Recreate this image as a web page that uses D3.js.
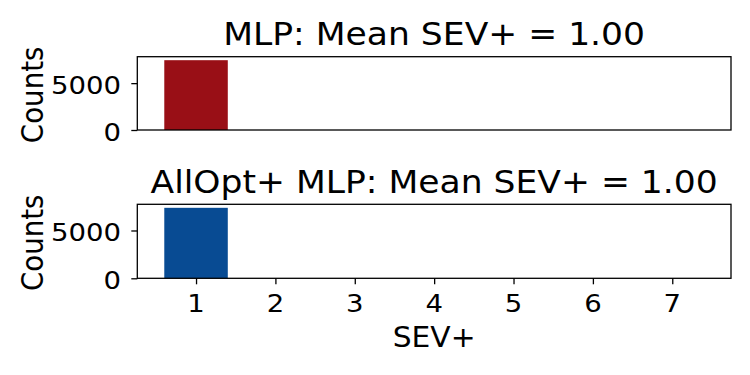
<!DOCTYPE html>
<html><head><meta charset="utf-8">
<script src="https://cdn.jsdelivr.net/npm/d3@7"></script>
<style>body{margin:0;background:#fff}svg{display:block}text{font-family:"DejaVu Sans",sans-serif;fill:#000}</style>
</head><body>
<svg id="c" width="750" height="375"></svg>
<script>
const sevLevels = [1, 2, 3, 4, 5, 6, 7];
const xTicks = [1, 2, 3, 4, 5, 6, 7];
const yTicks = [0, 5000];
const mlpCounts = [7450, 0, 0, 0, 0, 0, 0];
const allOptCounts = [7370, 0, 0, 0, 0, 0, 0];
const titles = ["MLP: Mean SEV+ = 1.00", "AllOpt+ MLP: Mean SEV+ = 1.00"];
const colors = ["#990f16", "#084b93"];
const xLabel = "SEV+";
const yLabel = "Counts";

const SX = 1.08; // horizontal stretch of glyphs seen in the reference
const svg = d3.select("#c");
const L = 137.3, R = 731;
const panels = [
  {top: 56.7, bottom: 130, data: mlpCounts},
  {top: 204.3, bottom: 278.3, data: allOptCounts}
];
const barW = 0.8;
const x = d3.scaleLinear().domain([1 - barW/2 - 0.34, 7 + barW/2 + 0.34]).range([L, R]);

function label(parent, px, py, txt, size, anchor, rot) {
  const g = parent.append("g").attr("transform", `translate(${px},${py}) scale(${SX},1)` + (rot ? ` rotate(${rot})` : ""));
  g.append("text").attr("text-anchor", anchor).style("font-size", size + "px").text(txt);
  return g;
}

panels.forEach((p, i) => {
  const maxV = d3.max(p.data);
  const y = d3.scaleLinear().domain([0, maxV * 1.05]).range([p.bottom, p.top]);
  const g = svg.append("g");
  g.selectAll("rect.bar").data(sevLevels).enter().append("rect").attr("class", "bar")
    .attr("x", d => x(d - barW/2))
    .attr("width", d => x(d + barW/2) - x(d - barW/2))
    .attr("y", (d, j) => y(p.data[j]))
    .attr("height", (d, j) => y(0) - y(p.data[j]))
    .attr("fill", colors[i]);
  g.append("rect").attr("x", L).attr("y", p.top).attr("width", R - L).attr("height", p.bottom - p.top)
    .attr("fill", "none").attr("stroke", "#000").attr("stroke-width", 1.3);
  const ya = g.append("g").attr("transform", `translate(${L},0)`)
    .call(d3.axisLeft(y).tickValues(yTicks).tickSize(6).tickFormat(""));
  ya.select(".domain").remove();
  ya.selectAll("line").attr("stroke-width", 1.3);
  yTicks.forEach(t => label(g, 121, y(t) + 10.8, d3.format("d")(t), 25.5, "end"));
  if (i === 1) {
    const xa = g.append("g").attr("transform", `translate(0,${p.bottom})`)
      .call(d3.axisBottom(x).tickValues(xTicks).tickSize(6).tickFormat(""));
    xa.select(".domain").remove();
    xa.selectAll("line").attr("stroke-width", 1.3);
    xTicks.forEach(t => label(g, x(t), p.bottom + 33.6, d3.format("d")(t), 25.5, "middle"));
  }
  label(g, (L + R) / 2, p.top - 11.6, titles[i], 32, "middle");
  label(g, 43.3, (p.top + p.bottom) / 2 + 1.5, yLabel, 27.7, "middle", -90);
});

label(svg, (L + R) / 2, 347, xLabel, 27.5, "middle");
</script>
</body></html>
